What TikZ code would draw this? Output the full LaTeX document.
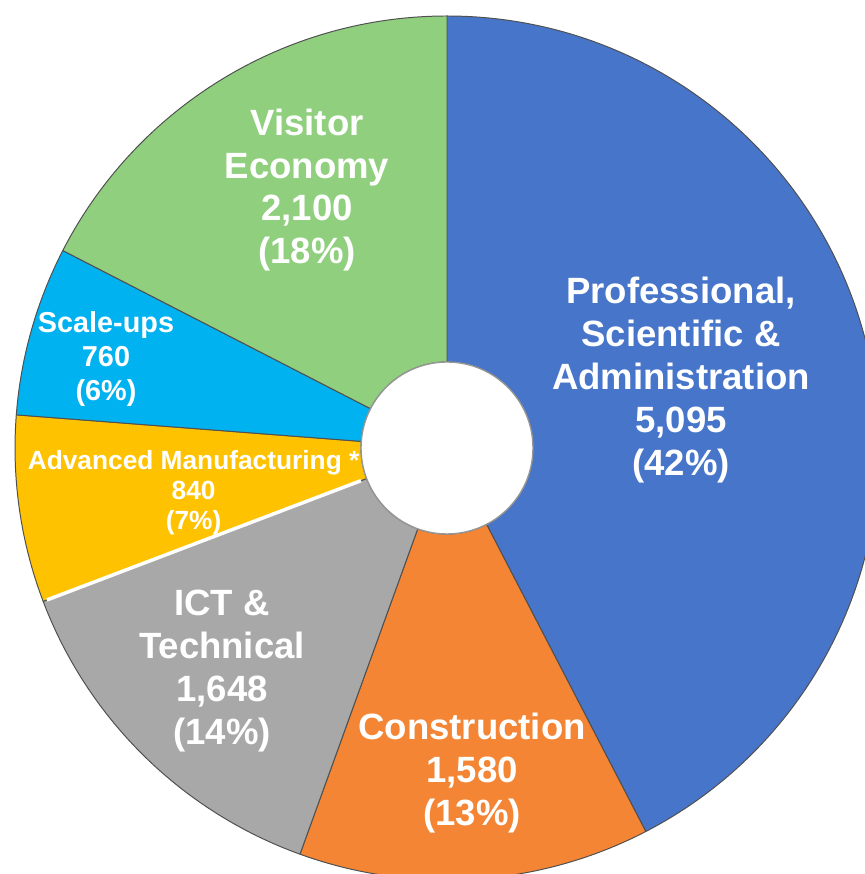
\documentclass[tikz,border=0pt]{standalone}
\usepackage{fontspec}
\setmainfont{Liberation Sans}
\usepackage{xcolor}
\usepackage{tikz}
\usetikzlibrary{positioning}
\definecolor{profblue}{RGB}{70, 117, 202}
\definecolor{constorange}{RGB}{243, 133, 52}
\definecolor{ictgrey}{RGB}{168, 168, 168}
\definecolor{manuyellow}{RGB}{255, 194, 0}
\definecolor{scalecyan}{RGB}{0, 178, 240}
\definecolor{visitgreen}{RGB}{143, 207, 126}
\definecolor{rim}{RGB}{80, 80, 80}

\begin{document}
\begin{tikzpicture}[
        slice/.style={fill=#1, draw=rim, line width=0.7pt, line join=round},
        biglabel/.style={text=white, align=center, font=\fontsize{26}{30.5}\selectfont\bfseries},
        smalllabel/.style={text=white, align=center, font=\fontsize{20.5}{24}\selectfont\bfseries},
        tinylabel/.style={text=white, align=center, font=\fontsize{18.7}{21.3}\selectfont\bfseries}
    ]
        \useasboundingbox (0,0) rectangle (21.625,21.85);
        \clip (0,0) rectangle (21.625,21.85);

        \coordinate (c) at (11.175,10.65);
        \def\R{10.8}
        \def\r{2.15}

        % slices, clockwise from the top
        \draw[slice=profblue] ([shift={(90:\R)}]c) arc[start angle=90, end angle=-62.6, radius=\R]
            -- ([shift={(-62.6:\r)}]c) arc[start angle=-62.6, end angle=90, radius=\r] -- cycle;
        \draw[slice=constorange] ([shift={(-62.6:\R)}]c) arc[start angle=-62.6, end angle=-109.9, radius=\R]
            -- ([shift={(-109.9:\r)}]c) arc[start angle=-109.9, end angle=-62.6, radius=\r] -- cycle;
        \draw[slice=ictgrey] ([shift={(-109.9:\R)}]c) arc[start angle=-109.9, end angle=-159.2, radius=\R]
            -- ([shift={(-159.2:\r)}]c) arc[start angle=-159.2, end angle=-109.9, radius=\r] -- cycle;
        \draw[slice=manuyellow] ([shift={(-159.2:\R)}]c) arc[start angle=-159.2, end angle=-184.4, radius=\R]
            -- ([shift={(-184.4:\r)}]c) arc[start angle=-184.4, end angle=-159.2, radius=\r] -- cycle;
        \draw[slice=scalecyan] ([shift={(-184.4:\R)}]c) arc[start angle=-184.4, end angle=-207.2, radius=\R]
            -- ([shift={(-207.2:\r)}]c) arc[start angle=-207.2, end angle=-184.4, radius=\r] -- cycle;
        \draw[slice=visitgreen] ([shift={(-207.2:\R)}]c) arc[start angle=-207.2, end angle=-270, radius=\R]
            -- ([shift={(-270:\r)}]c) arc[start angle=-270, end angle=-207.2, radius=\r] -- cycle;

        % white gap between ICT and manufacturing
        \draw[white, line width=2.5pt] ([shift={(-159.2:2.3)}]c) -- ([shift={(-159.2:10.7)}]c);

        \fill[white] (c) circle (\r);
        \draw[rim!60, line width=1pt] (c) circle (\r);

        % labels
        \node (professional) [biglabel] at (17.025,12.35) {Professional,\\Scientific \&\\Administration\\5,095\\(42\%)};
        \node (visitor) [biglabel] at (7.675,17.1) {Visitor\\Economy\\2,100\\(18\%)};
        \node (scaleups) [smalllabel] at (2.65,12.875) {Scale-ups\\760\\(6\%)};
        \node (manufacturing) [tinylabel] at (4.84,9.525) {Advanced Manufacturing *\\840\\(7\%)};
        \node (ict) [biglabel] at (5.55,5.075) {ICT \&\\Technical\\1,648\\(14\%)};
        \node (construction) [biglabel] at (11.8,2.525) {Construction\\1,580\\(13\%)};
    \end{tikzpicture}
\end{document}
